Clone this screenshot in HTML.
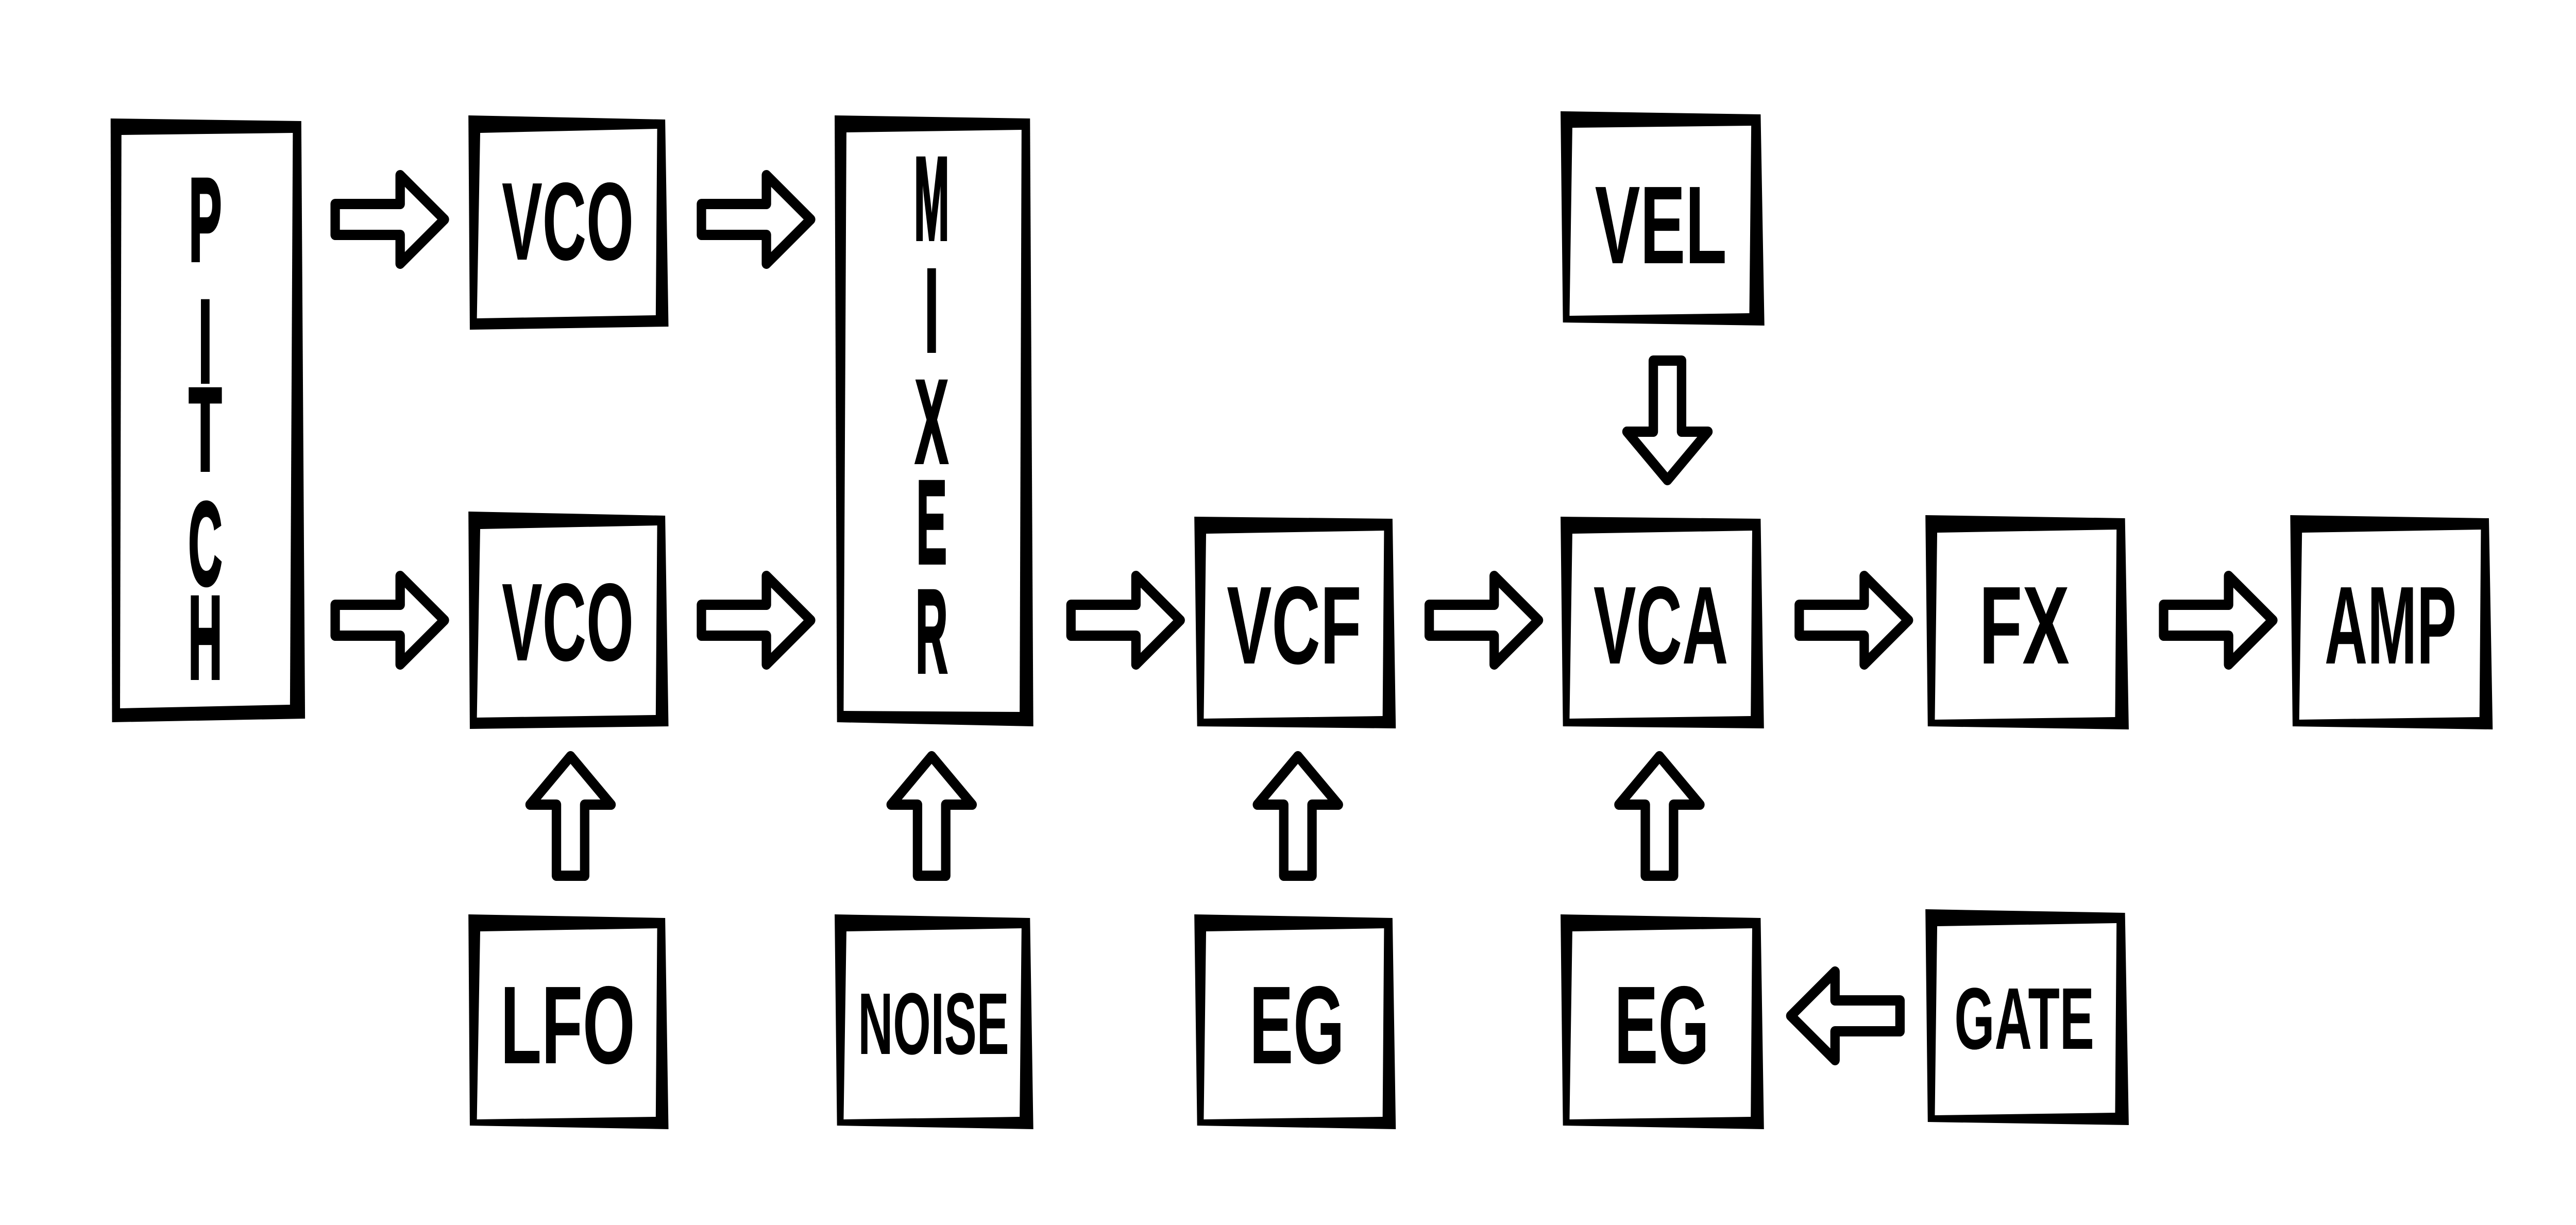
<!DOCTYPE html>
<html><head><meta charset="utf-8"><style>
html,body{margin:0;padding:0;background:#fff;overflow:hidden;width:100%;height:100%}
svg{display:block;width:100vw;height:100vh}
text{font-family:"Liberation Sans",sans-serif;font-weight:bold;fill:#000;text-anchor:middle}
</style></head><body>
<svg viewBox="0 0 5472 2378" preserveAspectRatio="none" xmlns="http://www.w3.org/2000/svg">
<defs>
<path id="ar" d="M0,-30 L138,-30 L138,-86 L232,0 L138,86 L138,30 L0,30 Z" fill="#fff" stroke="#000" stroke-width="20" stroke-linejoin="round"/>
</defs>
<g fill="#000">
<path d="M235,230 L640,235 L648,1395 L238,1402 Z"/><path d="M258,262 L622,258 L616,1368 L255,1375 Z" fill="#fff"/>
<path d="M995,224 L1413,232 L1420,634 L998,640 Z"/><path d="M1020,258 L1396,250 L1393,612 L1013,618 Z" fill="#fff"/>
<path d="M995,993 L1413,1001 L1420,1410 L998,1415 Z"/><path d="M1020,1027 L1396,1020 L1393,1388 L1013,1393 Z" fill="#fff"/>
<path d="M1773,224 L2188,230 L2195,1410 L1778,1402 Z"/><path d="M1798,257 L2170,252 L2166,1382 L1792,1380 Z" fill="#fff"/>
<path d="M2537,1003 L2958,1007 L2965,1414 L2543,1410 Z"/><path d="M2562,1036 L2940,1030 L2937,1390 L2557,1395 Z" fill="#fff"/>
<path d="M3315,1003 L3740,1007 L3747,1414 L3320,1410 Z"/><path d="M3340,1036 L3722,1030 L3719,1390 L3334,1395 Z" fill="#fff"/>
<path d="M4090,1000 L4514,1006 L4522,1416 L4095,1410 Z"/><path d="M4115,1034 L4496,1028 L4493,1392 L4110,1397 Z" fill="#fff"/>
<path d="M4865,1000 L5287,1006 L5295,1416 L4870,1410 Z"/><path d="M4890,1034 L5270,1028 L5267,1392 L4884,1397 Z" fill="#fff"/>
<path d="M3315,216 L3740,222 L3748,632 L3320,626 Z"/><path d="M3340,248 L3720,244 L3716,608 L3334,613 Z" fill="#fff"/>
<path d="M995,1775 L1413,1782 L1420,2192 L998,2185 Z"/><path d="M1020,1808 L1396,1802 L1393,2168 L1013,2173 Z" fill="#fff"/>
<path d="M1773,1775 L2188,1782 L2195,2192 L1778,2185 Z"/><path d="M1798,1808 L2170,1802 L2166,2168 L1792,2173 Z" fill="#fff"/>
<path d="M2537,1775 L2958,1782 L2965,2192 L2543,2185 Z"/><path d="M2562,1808 L2940,1802 L2937,2168 L2557,2173 Z" fill="#fff"/>
<path d="M3315,1775 L3740,1782 L3747,2192 L3320,2185 Z"/><path d="M3340,1808 L3722,1802 L3719,2168 L3334,2173 Z" fill="#fff"/>
<path d="M4090,1765 L4514,1772 L4522,2184 L4095,2178 Z"/><path d="M4115,1798 L4496,1792 L4493,2160 L4110,2165 Z" fill="#fff"/>
</g>
<use href="#ar" transform="translate(712,426)"/>
<use href="#ar" transform="translate(1490,426)"/>
<use href="#ar" transform="translate(712,1204)"/>
<use href="#ar" transform="translate(1490,1204)"/>
<use href="#ar" transform="translate(2275,1204)"/>
<use href="#ar" transform="translate(3036,1204)"/>
<use href="#ar" transform="translate(3822,1204)"/>
<use href="#ar" transform="translate(4596,1204)"/>
<use href="#ar" transform="translate(1212,1700) rotate(-90)"/>
<use href="#ar" transform="translate(1979,1700) rotate(-90)"/>
<use href="#ar" transform="translate(2757,1700) rotate(-90)"/>
<use href="#ar" transform="translate(3525,1700) rotate(-90)"/>
<use href="#ar" transform="translate(3542,700) rotate(90)"/>
<use href="#ar" transform="translate(4036,1972) rotate(180)"/>
<g font-size="215">
<text x="1206" y="504" textLength="280" lengthAdjust="spacingAndGlyphs">VCO</text>
<text x="1206" y="1282" textLength="280" lengthAdjust="spacingAndGlyphs">VCO</text>
<text x="2749" y="1288" textLength="286" lengthAdjust="spacingAndGlyphs">VCF</text>
<text x="3528" y="1288" textLength="286" lengthAdjust="spacingAndGlyphs">VCA</text>
<text x="4300" y="1288" textLength="192" lengthAdjust="spacingAndGlyphs">FX</text>
<text x="5078" y="1288" textLength="280" lengthAdjust="spacingAndGlyphs">AMP</text>
<text x="3528" y="511" textLength="280" lengthAdjust="spacingAndGlyphs">VEL</text>
<text x="1206" y="2064" textLength="286" lengthAdjust="spacingAndGlyphs">LFO</text>
<text x="2755" y="2064" textLength="202" lengthAdjust="spacingAndGlyphs">EG</text>
<text x="3530" y="2064" textLength="202" lengthAdjust="spacingAndGlyphs">EG</text>
</g>
<g font-size="170">
<text x="1983" y="2046" textLength="321" lengthAdjust="spacingAndGlyphs">NOISE</text>
<text x="4300" y="2036" textLength="297" lengthAdjust="spacingAndGlyphs">GATE</text>
</g>
<g font-size="230" font-weight="normal" stroke="#000" stroke-width="6">
<text x="436" y="506" textLength="70" lengthAdjust="spacingAndGlyphs">P</text>
<text x="436" y="742" textLength="30" lengthAdjust="spacingAndGlyphs">I</text>
<text x="436" y="913" textLength="70" lengthAdjust="spacingAndGlyphs">T</text>
<text x="436" y="1135" textLength="72" lengthAdjust="spacingAndGlyphs">C</text>
<text x="436" y="1317" textLength="72" lengthAdjust="spacingAndGlyphs">H</text>
<text x="1979" y="465" textLength="75" lengthAdjust="spacingAndGlyphs">M</text>
<text x="1979" y="682" textLength="30" lengthAdjust="spacingAndGlyphs">I</text>
<text x="1979" y="898" textLength="70" lengthAdjust="spacingAndGlyphs">X</text>
<text x="1979" y="1093" textLength="65" lengthAdjust="spacingAndGlyphs">E</text>
<text x="1979" y="1305" textLength="68" lengthAdjust="spacingAndGlyphs">R</text>
</g>
</svg>
</body></html>
